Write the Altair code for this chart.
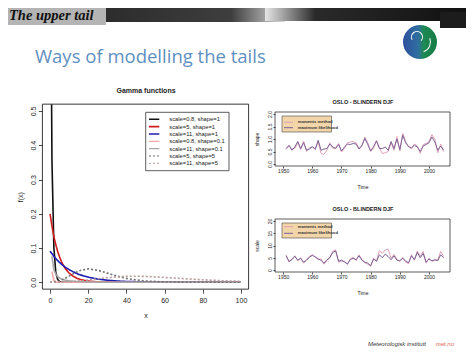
import altair as alt
import pandas as pd

W, H = 458, 339

# ---------------- Gamma functions ----------------
gamma_labels = ["scale=0.8, shape=1", "scale=5, shape=1", "scale=11, shape=1",
                "scale=0.8, shape=0.1", "scale=11, shape=0.1",
                "scale=5, shape=5", "scale=11, shape=5"]
gamma_colors = ["#111111", "#d01c1c", "#1c1cb4", "#f2a7a7", "#a8a8a8", "#707070", "#b89a9a"]
gamma_widths = [1.6, 1.6, 1.6, 1.3, 1.3, 1.0, 1.0]
gamma_dash = [[1, 0], [1, 0], [1, 0], [1, 0], [1, 0], [2, 2], [2, 2]]

g1_x = [0.82, 1, 2, 3, 4, 5, 6, 7, 8, 10, 100]
g1_y = [0.52, 0.358, 0.103, 0.029, 0.0084, 0.0024, 0.0007, 0.0002, 0.0, 0.0, 0.0]
g2_x = [0, 1, 2, 3, 4, 5, 6, 7, 8, 10, 12, 14, 16, 18, 20, 25, 30, 40, 50, 100]
g2_y = [0.2, 0.164, 0.134, 0.110, 0.090, 0.074, 0.060, 0.049, 0.040, 0.027, 0.018,
        0.012, 0.008, 0.0055, 0.0037, 0.0013, 0.0005, 0.0001, 0.0, 0.0]
g3_x = [0, 2, 4, 6, 8, 10, 12, 15, 20, 25, 30, 35, 40, 50, 60, 70, 80, 100]
g3_y = [0.091, 0.076, 0.063, 0.053, 0.044, 0.037, 0.031, 0.023, 0.015, 0.0094, 0.006,
        0.0038, 0.0024, 0.001, 0.0004, 0.0002, 0.0001, 0.0]
g4_x = [1, 2, 3, 4, 5, 10, 100]
g4_y = [0.031, 0.0047, 0.0009, 0.0002, 0.0, 0.0, 0.0]
g5_x = [1, 2, 3, 4, 5, 6, 8, 10, 15, 20, 30, 40, 100]
g5_y = [0.0755, 0.037, 0.0234, 0.0165, 0.0123, 0.0096, 0.0062, 0.0042, 0.0019, 0.0009,
        0.0003, 0.0001, 0.0]
g6_x = [0, 5, 10, 15, 20, 25, 30, 35, 40, 45, 50, 60, 70, 80, 100]
g6_y = [0.0, 0.0031, 0.018, 0.0336, 0.0391, 0.0351, 0.0268, 0.0183, 0.0115, 0.0068,
        0.0038, 0.0011, 0.0003, 0.0001, 0.0]
g7_x = [0, 10, 20, 30, 40, 45, 50, 60, 70, 80, 90, 100]
g7_y = [0.0, 0.001, 0.0067, 0.0137, 0.0175, 0.0177, 0.0172, 0.0143, 0.0107, 0.0074,
        0.0047, 0.0029]

gamma_x_ticks = [0, 20, 40, 60, 80, 100]
gamma_y_ticks = [0.0, 0.1, 0.2, 0.3, 0.4, 0.5]

# ---------------- OSLO - BLINDERN DJF series ----------------
years = list(range(1951, 2006))
methods = ["moments method", "maximum likelihood"]
method_colors = ["#e3a2b6", "#7b6198"]

shape_mom = [0.58, 0.72, 0.60, 0.62, 0.85, 0.58, 0.92, 0.50, 0.65, 0.66, 0.62, 0.88, 0.42,
             0.38, 0.55, 0.85, 0.62, 0.65, 0.82, 0.48, 0.62, 0.85, 0.88, 0.90, 0.85, 0.62,
             0.70, 1.08, 0.85, 0.50, 0.62, 0.95, 0.65, 0.42, 0.45, 0.50, 0.85, 0.55, 1.10,
             0.52, 1.22, 0.90, 0.68, 0.60, 0.80, 0.72, 0.42, 0.78, 0.82, 0.90, 1.18, 1.00,
             0.45, 0.80, 0.50]
shape_ml = [0.62, 0.75, 0.55, 0.68, 0.90, 0.62, 0.85, 0.55, 0.60, 0.70, 0.58, 0.95, 0.55,
            0.60, 0.62, 0.80, 0.68, 0.62, 0.78, 0.52, 0.68, 0.80, 0.78, 0.82, 0.80, 0.60,
            0.75, 1.02, 0.78, 0.52, 0.70, 0.92, 0.62, 0.62, 0.68, 0.55, 0.90, 0.62, 1.00,
            0.58, 1.15, 0.85, 0.70, 0.65, 0.75, 0.68, 0.50, 0.72, 0.78, 0.85, 1.08, 0.88,
            0.55, 0.72, 0.55]
scale_mom = [6.2, 3.2, 4.5, 5.8, 3.8, 5.0, 2.8, 4.2, 5.6, 6.2, 5.2, 4.2, 4.6, 2.4, 3.8, 5.4,
             7.6, 8.2, 3.2, 3.6, 3.6, 2.2, 4.6, 5.2, 3.8, 6.2, 4.4, 3.0, 2.4, 1.5, 4.8, 3.8,
             7.8, 6.8, 8.2, 8.5, 4.8, 6.4, 4.4, 3.5, 5.2, 3.2, 2.6, 6.2, 4.0, 7.8, 5.6, 7.6,
             2.8, 4.8, 3.5, 4.0, 4.2, 7.6, 5.5]
scale_ml = [5.8, 3.5, 4.2, 5.6, 4.0, 4.8, 3.2, 4.0, 5.2, 6.0, 5.4, 4.6, 3.9, 2.8, 4.2, 5.0,
            7.2, 7.8, 3.6, 4.0, 3.3, 2.5, 4.2, 4.8, 4.2, 5.8, 4.0, 3.2, 2.8, 1.8, 4.5, 3.5,
            6.2, 5.0, 6.5, 5.5, 4.2, 5.8, 4.0, 3.8, 4.8, 3.6, 3.0, 5.8, 4.2, 7.2, 5.0, 6.8,
            3.2, 4.5, 3.8, 4.2, 3.8, 6.2, 5.0]

year_ticks = [1950, 1960, 1970, 1980, 1990, 2000]
shape_ticks = [0.0, 0.5, 1.0, 1.5, 2.0]
scale_ticks = [0, 5, 10, 15, 20]

# ---------------- tables ----------------
gx = [g1_x, g2_x, g3_x, g4_x, g5_x, g6_x, g7_x]
gy = [g1_y, g2_y, g3_y, g4_y, g5_y, g6_y, g7_y]
gamma_df = pd.concat([pd.DataFrame({"x": a, "y": b, "series": lab, "o": i})
                      for i, (a, b, lab) in enumerate(zip(gx, gy, gamma_labels))])
shape_df = pd.concat([pd.DataFrame({"year": years, "v": shape_mom, "method": methods[0]}),
                      pd.DataFrame({"year": years, "v": shape_ml, "method": methods[1]})])
scale_df = pd.concat([pd.DataFrame({"year": years, "v": scale_mom, "method": methods[0]}),
                      pd.DataFrame({"year": years, "v": scale_ml, "method": methods[1]})])

ONE = pd.DataFrame({"k": [0]})
SANS = "Liberation Sans"
TXT = "#222222"


def txt(s, x, y, size, **kw):
    return alt.Chart(ONE).mark_text(text=s, fontSize=size, **kw).encode(
        x=alt.value(x), y=alt.value(y))


def box(x0, y0, x1, y1, **kw):
    return alt.Chart(ONE).mark_rect(**kw).encode(
        x=alt.value(x0), x2=alt.value(x1), y=alt.value(y0), y2=alt.value(y1))


def seg(x0, x1, y, **kw):
    return alt.Chart(ONE).mark_rule(**kw).encode(
        x=alt.value(x0), x2=alt.value(x1), y=alt.value(y))


def axis(orient, values, fmt, title, offset, size, tick, lpad, tpad, angle=0, **kw):
    d = dict(values=values, format=fmt, orient=orient, offset=offset, domain=False,
             grid=False, ticks=True, tickSize=tick, tickColor=TXT, tickWidth=0.8,
             labelFont=SANS, labelFontSize=size, labelColor=TXT, labelPadding=lpad,
             labelFlush=False, labelOverlap=False, title=title, titleFont=SANS,
             titleFontSize=size, titleFontWeight="normal", titleColor=TXT,
             titlePadding=tpad, minExtent=0)
    if orient == "left":
        d.update(labelAngle=270, labelAlign="center", labelBaseline="bottom")
    d.update(kw)
    return alt.Axis(**d)


layers = []

# ---------------- slide decoration ----------------
layers.append(box(0, 0, 98, 17, fill="#b4b4b4"))
layers.append(txt("The upper tail", 1, 12, 14.5, font="Liberation Serif", fontWeight="bold",
                  fontStyle="italic", align="left", baseline="alphabetic", color="#111111"))
layers.append(box(98, 0, 277, 14, fill=alt.LinearGradient(
    gradient="linear", x1=0, x2=1, y1=0, y2=0,
    stops=[alt.GradientStop(offset=0, color="#2c2c2c"),
           alt.GradientStop(offset=0.7, color="#3e3e3e"),
           alt.GradientStop(offset=1, color="#dcdcdc")])))
layers.append(box(257, 0, 458, 13, fill=alt.LinearGradient(
    gradient="linear", x1=0, x2=1, y1=0, y2=0,
    stops=[alt.GradientStop(offset=0, color="#e6e6e6"),
           alt.GradientStop(offset=0.25, color="#2a2a2a"),
           alt.GradientStop(offset=1, color="#111111")])))
layers.append(box(432, 4, 458, 20, fill="#1c1c1c"))
layers.append(alt.Chart(ONE).mark_arc(theta=0, theta2=6.2832, radius=17, fill=alt.LinearGradient(
    gradient="linear", x1=0, x2=1, y1=0, y2=0,
    stops=[alt.GradientStop(offset=0, color="#2f4f9f"),
           alt.GradientStop(offset=0.45, color="#2f6fa0"),
           alt.GradientStop(offset=0.6, color="#1f8a55"),
           alt.GradientStop(offset=1, color="#157a44")])).encode(
    x=alt.value(412), y=alt.value(34)))
layers.append(alt.Chart(ONE).mark_arc(theta=4.2, theta2=8.6, radius=6, radius2=5, fill="white").encode(
    x=alt.value(409), y=alt.value(29)))
layers.append(alt.Chart(ONE).mark_arc(theta=1.2, theta2=2.8, radius=11, radius2=10, fill="white").encode(
    x=alt.value(412), y=alt.value(34)))
layers.append(txt("Ways of modelling the tails", 27, 55, 18.5, font="Open Sans",
                  align="left", baseline="alphabetic", color="#5f8fbf"))
layers.append(txt("Meteorologisk institutt", 360, 336, 6, font=SANS, fontStyle="italic",
                  align="left", baseline="middle", color="#333333"))
layers.append(txt("met.no", 446, 336, 6, font=SANS, fontStyle="italic",
                  align="right", baseline="middle", color="#e0604d"))

# ---------------- main gamma plot ----------------
MX0, MX1 = 34.4, 240.6
MY0, MY1 = 281.15, 96.15
layers.append(txt("Gamma functions", 138, 83, 7, font=SANS, fontWeight="bold",
                  align="center", baseline="middle", color=TXT))
layers.append(alt.Chart(gamma_df).mark_line().encode(
    x=alt.X("x:Q", scale=alt.Scale(domain=[-4, 104], range=[MX0, MX1], nice=False, zero=False),
            axis=axis("bottom", gamma_x_ticks, "d", "x", MY0 - H, 7, 4, 3, 8)),
    y=alt.Y("y:Q", scale=alt.Scale(domain=[-0.02, 0.52], range=[MY0, MY1], nice=False, zero=False),
            axis=axis("left", gamma_y_ticks, ".1f", "f(x)", -MX0, 7, 4, 2, 6)),
    color=alt.Color("series:N", scale=alt.Scale(domain=gamma_labels, range=gamma_colors), legend=None),
    strokeDash=alt.StrokeDash("series:N", scale=alt.Scale(domain=gamma_labels, range=gamma_dash), legend=None),
    strokeWidth=alt.StrokeWidth("series:N", scale=alt.Scale(domain=gamma_labels, range=gamma_widths), legend=None),
    order=alt.Order("x:Q"),
))
layers.append(box(MX0, MY1, MX1, MY0, filled=False, stroke="#222222", strokeWidth=0.9))
# legend
layers.append(box(137.7, 104.3, 221, 162.7, fill="white", stroke="#333333", strokeWidth=0.8))
for i, (lab, col, wid, dash) in enumerate(zip(gamma_labels, gamma_colors, gamma_widths, gamma_dash)):
    yy = 111.3 + i * 7.33
    layers.append(seg(141, 151.3, yy, color=col, strokeWidth=wid, strokeDash=dash))
    layers.append(txt(lab, 161.3, yy, 5.8, font=SANS, align="left", baseline="middle", color=TXT))

# ---------------- OSLO time series ----------------
TX0, TX1 = 267, 442
T1Y0, T1Y1 = 158, 104
T2Y0, T2Y1 = 264, 211


def ts_panel(df, ydom, y0, y1, yticks, yfmt, ytitle, title_y, leg_y0, leg_y1, entries_y):
    out = []
    out.append(txt("OSLO - BLINDERN DJF", 355, title_y, 5.5, font=SANS, fontWeight="bold",
                   align="center", baseline="middle", color=TXT))
    out.append(alt.Chart(df).mark_line(strokeWidth=1).encode(
        x=alt.X("year:Q", scale=alt.Scale(domain=[1947.2, 2007.2], range=[TX0, TX1], nice=False, zero=False),
                axis=axis("bottom", year_ticks, "d", "Time", y0 - H, 5, 2, 0.5, 11)),
        y=alt.Y("v:Q", scale=alt.Scale(domain=ydom, range=[y0, y1], nice=False, zero=False),
                axis=axis("left", yticks, yfmt, ytitle, -TX0, 5, 2, 1, 8)),
        color=alt.Color("method:N", scale=alt.Scale(domain=methods, range=method_colors), legend=None),
    ))
    out.append(box(TX0, y1, TX1, y0, filled=False, stroke="#333333", strokeWidth=0.8))
    out.append(box(274, leg_y0, 323.5, leg_y1, fill="#f2d6aa", stroke="#444444", strokeWidth=0.6))
    for m, c, yy in zip(methods, method_colors, entries_y):
        out.append(seg(276, 285, yy, color=c, strokeWidth=1))
        out.append(txt(m, 289.7, yy, 4.2, font=SANS, fontWeight="bold", align="left",
                       baseline="middle", color="#333333"))
    return out


layers += ts_panel(shape_df, [-0.08, 2.08], T1Y0, T1Y1, shape_ticks, ".1f", "shape",
                   94, 108, 124, [114.3, 119.7])
layers += ts_panel(scale_df, [-0.8, 20.8], T2Y0, T2Y1, scale_ticks, "d", "scale",
                   201, 215, 230, [218.7, 225.3])

chart = alt.layer(*layers).resolve_scale(
    x="independent", y="independent", color="independent",
    strokeDash="independent", strokeWidth="independent"
).properties(
    width=W, height=H, padding=0, autosize=alt.AutoSizeParams(type="none"),
    background="white"
).configure_view(stroke=None)

chart.save("out.html", embed_options={"renderer": "svg", "actions": False})
